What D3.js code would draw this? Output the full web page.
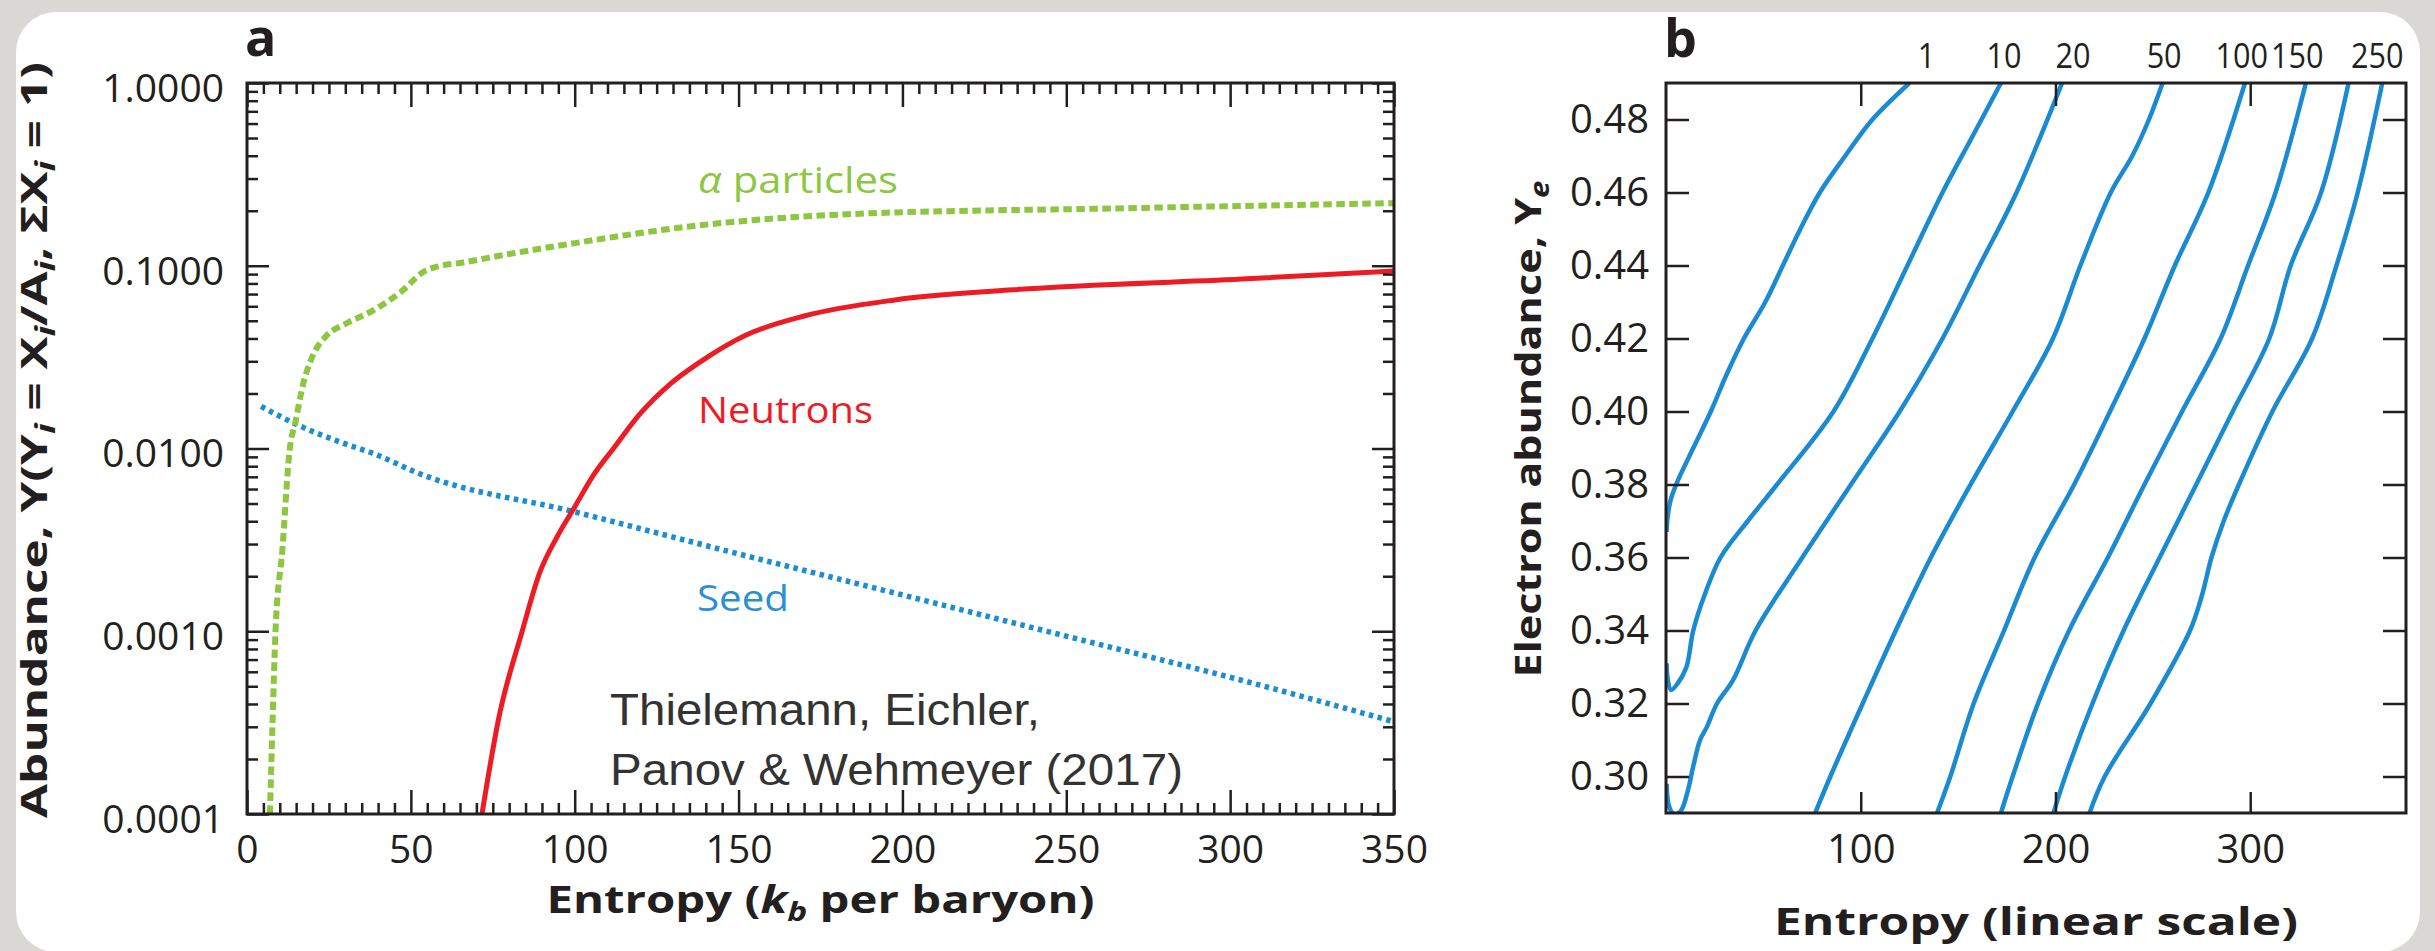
<!DOCTYPE html>
<html>
<head>
<meta charset="utf-8">
<script src="https://cdn.jsdelivr.net/npm/d3@7"></script>
<style>
  body { margin: 0; background: #dad8d4; }
  svg { display: block; }
  .tick line { stroke: #231f20; stroke-width: 2.5; }
  .tick text { font-family: "Open Sans", sans-serif; fill: #231f20; }
  .domain { display: none; }
</style>
</head>
<body>
<div id="chart"></div>
<script>
(function(){
  var width = 2435,
      height = 951;

  // ---- panel a : abundances vs entropy (log y) ----
  var alphaS = [7, 7.8, 8.7, 10.8, 13, 14.8, 17, 20, 24, 30, 38.5, 47, 54, 58, 65, 80, 100, 135, 185, 265, 350];
  var alphaY = [1e-4, 3.2e-4, 1e-3, 2.8e-3, 0.0098, 0.014, 0.022, 0.032, 0.041, 0.048, 0.057, 0.072, 0.093, 0.099, 0.1035, 0.116, 0.133, 0.164, 0.192, 0.206, 0.22];

  var neutS = [71.7, 76.9, 83.9, 89.4, 94.6, 99.8, 105.9, 112, 119.9, 129.1, 138.2, 152.3, 170, 197.7, 232.5, 303.6, 350];
  var neutY = [1e-4, 3.4e-4, 9.9e-4, 2.11e-3, 3.28e-3, 4.72e-3, 7.24e-3, 0.0101, 0.01545, 0.0225, 0.0297, 0.0418, 0.0531, 0.065, 0.0736, 0.0846, 0.0936];

  var seedS = [4.3, 15.7, 30, 38.5, 52.5, 100, 150, 200, 250, 300, 350];
  var seedY = [0.017, 0.0134, 0.0106, 0.0094, 0.0073, 0.0045, 0.00265, 0.00158, 0.00094, 0.00056, 0.00032];

  var xTicksA = [0, 50, 100, 150, 200, 250, 300, 350];
  var yTicksA = [1e-4, 1e-3, 1e-2, 1e-1, 1];

  // ---- panel b : contours of entropy vs electron abundance ----
  var line1 = [[125,0.49],[106,0.48],[92,0.47],[79,0.46],[69,0.45],[60,0.44],[51,0.43],[40,0.42],[31,0.41],[23,0.40],[14,0.39],[6,0.381],[2.5,0.376],[0.8,0.371],[0.3,0.367]];
  var line2 = [[172,0.49],[157,0.475],[142,0.46],[124,0.44],[106,0.42],[86,0.40],[57,0.38],[42,0.37],[28,0.36],[20,0.35],[14,0.34],[10.5,0.33],[6,0.3255],[2.6,0.3237],[0.8,0.327],[0.3,0.331]];
  var line3 = [[203.4,0.49],[180,0.46],[161,0.44],[142,0.42],[120,0.40],[95,0.38],[70,0.36],[46,0.34],[34.4,0.3264],[26.2,0.32],[21,0.3136],[17.5,0.31],[13.9,0.3026],[11.3,0.2963],[7.5,0.2905],[4,0.2897],[1.5,0.292],[0.3,0.298]];
  var line4 = [[255,0.49],[248,0.48],[239.4,0.47],[228.4,0.46],[212.8,0.44],[198.7,0.42],[178,0.40],[156.4,0.38],[136,0.36],[118,0.34],[101,0.32],[84.4,0.30],[76.6,0.29]];
  var line5 = [[297.3,0.49],[278.5,0.46],[261.3,0.44],[245.7,0.42],[228,0.40],[209.6,0.38],[189.3,0.36],[173.6,0.34],[158,0.32],[146,0.30],[139.2,0.29]];
  var line6 = [[328.6,0.49],[313,0.46],[298.9,0.44],[284.8,0.42],[265,0.40],[245.7,0.38],[226.9,0.36],[207,0.34],[191,0.32],[178,0.30],[172,0.29]];
  var line7 = [[350.5,0.49],[336.4,0.46],[320.8,0.44],[309.8,0.42],[291,0.40],[272.3,0.38],[253.5,0.36],[235,0.34],[219,0.32],[205,0.30],[199,0.29]];
  var line8 = [[367.8,0.49],[355.2,0.46],[344.3,0.44],[331.8,0.42],[311.4,0.40],[294.2,0.38],[286.4,0.37],[280.1,0.36],[275.4,0.35],[269.1,0.34],[248.8,0.32],[225.3,0.30],[217.5,0.29]];

  var contourLabels = ["1", "10", "20", "50", "100", "150", "250"];
  var contourLabelS = [133.8, 173.6, 209, 255.8, 295.6, 324.1, 365.2];

  var xTicksB = [100, 200, 300];
  var yTicksB = [0.30, 0.32, 0.34, 0.36, 0.38, 0.40, 0.42, 0.44, 0.46, 0.48];

  var ink = "#231f20";

  var svg = d3.select("#chart")
    .append("svg")
    .attr("width", width)
    .attr("height", height);

  svg.append("rect")
    .attr("width", width).attr("height", height)
    .attr("fill", "#dad8d4");

  // white card
  svg.append("rect")
    .attr("x", 16).attr("y", 12)
    .attr("width", 2404).attr("height", 940)
    .attr("rx", 40)
    .attr("fill", "#ffffff");

  var defs = svg.append("defs");

  // ================= panel a =================
  var xA = d3.scaleLinear().domain([0, 350]).range([247, 1394]);
  var yA = d3.scaleLog().domain([1e-4, 1]).range([814, 83]);

  defs.append("clipPath").attr("id", "clipA")
    .append("rect")
    .attr("x", xA(0)).attr("y", yA(1))
    .attr("width", xA(350) - xA(0)).attr("height", yA(1e-4) - yA(1));

  var lineA = d3.line()
    .x(function(d) { return xA(d[0]) })
    .y(function(d) { return yA(d[1]) })
    .curve(d3.curveMonotoneX);

  function zip(a, b) {
    return a.map(function(v, i) { return [v, b[i]] });
  }

  var curvesA = svg.append("g").attr("clip-path", "url(#clipA)");

  curvesA.append("path")
    .attr("d", lineA(zip(seedS, seedY)))
    .attr("fill", "none")
    .attr("stroke", "#1b8dd3")
    .attr("stroke-width", 5.5)
    .attr("stroke-dasharray", "4.5,4.5");

  curvesA.append("path")
    .attr("d", lineA(zip(alphaS, alphaY)))
    .attr("fill", "none")
    .attr("stroke", "#8dc63f")
    .attr("stroke-width", 6)
    .attr("stroke-dasharray", "8.5,4.5");

  curvesA.append("path")
    .attr("d", lineA(zip(neutS, neutY)))
    .attr("fill", "none")
    .attr("stroke", "#ed1c24")
    .attr("stroke-width", 5);

  // minor ticks
  var xMinorA = d3.range(0, 351, 5).filter(function(d) { return d % 50 !== 0 });
  var yMinorA = [];
  [1e-4, 1e-3, 1e-2, 1e-1].forEach(function(dec) {
    for (var k = 2; k <= 9; k++) yMinorA.push(dec * k);
  });

  var axA = svg.append("g");

  axA.append("g").attr("transform", "translate(0," + yA(1e-4) + ")")
    .call(d3.axisBottom(xA).tickValues(xTicksA).tickSize(-24).tickPadding(21).tickFormat(d3.format("d")))
    .selectAll("text").style("font-size", "39px");
  axA.append("g").attr("transform", "translate(0," + yA(1e-4) + ")")
    .call(d3.axisBottom(xA).tickValues(xMinorA).tickSize(-11).tickFormat(""));

  axA.append("g").attr("transform", "translate(0," + yA(1) + ")")
    .call(d3.axisTop(xA).tickValues(xTicksA).tickSize(-24).tickFormat(""));
  axA.append("g").attr("transform", "translate(0," + yA(1) + ")")
    .call(d3.axisTop(xA).tickValues(xMinorA).tickSize(-11).tickFormat(""));

  axA.append("g").attr("transform", "translate(" + xA(0) + ",0)")
    .call(d3.axisLeft(yA).tickValues(yTicksA).tickSize(-22).tickPadding(23).tickFormat(d3.format(".4f")))
    .selectAll("text").style("font-size", "39px").attr("dy", "0.47em");
  axA.append("g").attr("transform", "translate(" + xA(0) + ",0)")
    .call(d3.axisLeft(yA).tickValues(yMinorA).tickSize(-11).tickFormat(""));

  axA.append("g").attr("transform", "translate(" + xA(350) + ",0)")
    .call(d3.axisRight(yA).tickValues(yTicksA).tickSize(-22).tickFormat(""));
  axA.append("g").attr("transform", "translate(" + xA(350) + ",0)")
    .call(d3.axisRight(yA).tickValues(yMinorA).tickSize(-11).tickFormat(""));

  svg.append("rect")
    .attr("x", xA(0)).attr("y", yA(1))
    .attr("width", xA(350) - xA(0)).attr("height", yA(1e-4) - yA(1))
    .attr("fill", "none").attr("stroke", ink).attr("stroke-width", 3);

  // curve labels
  var alphaLabel = svg.append("text")
    .attr("x", 698).attr("y", 193)
    .attr("font-family", "Open Sans, sans-serif").attr("font-size", 36)
    .attr("fill", "#8dc63f")
    .attr("textLength", 200).attr("lengthAdjust", "spacingAndGlyphs");
  alphaLabel.append("tspan").attr("font-style", "italic").text("\u03b1");
  alphaLabel.append("tspan").text(" particles");

  svg.append("text")
    .attr("x", 698).attr("y", 423)
    .attr("font-family", "Open Sans, sans-serif").attr("font-size", 36)
    .attr("fill", "#ed1c24")
    .attr("textLength", 175).attr("lengthAdjust", "spacingAndGlyphs")
    .text("Neutrons");

  svg.append("text")
    .attr("x", 697).attr("y", 611)
    .attr("font-family", "Open Sans, sans-serif").attr("font-size", 36)
    .attr("fill", "#2a8fd4")
    .attr("textLength", 92).attr("lengthAdjust", "spacingAndGlyphs")
    .text("Seed");

  // citation
  svg.append("text")
    .attr("x", 610).attr("y", 725)
    .attr("font-family", "Liberation Sans, Arial, sans-serif").attr("font-size", 44)
    .attr("fill", "#333333")
    .attr("textLength", 430).attr("lengthAdjust", "spacingAndGlyphs")
    .text("Thielemann, Eichler,");
  svg.append("text")
    .attr("x", 610).attr("y", 785)
    .attr("font-family", "Liberation Sans, Arial, sans-serif").attr("font-size", 44)
    .attr("fill", "#333333")
    .attr("textLength", 573).attr("lengthAdjust", "spacingAndGlyphs")
    .text("Panov & Wehmeyer (2017)");

  // panel letter
  svg.append("text")
    .attr("x", 245).attr("y", 56)
    .attr("font-family", "Open Sans, sans-serif").attr("font-weight", 700).attr("font-size", 52)
    .attr("fill", ink)
    .text("a");

  // axis titles a
  var xTitleA = svg.append("text")
    .attr("x", (xA(0) + xA(350)) / 2).attr("y", 913)
    .attr("text-anchor", "middle")
    .attr("font-family", "Open Sans, sans-serif").attr("font-weight", 700).attr("font-size", 38)
    .attr("fill", ink)
    .attr("textLength", 548).attr("lengthAdjust", "spacingAndGlyphs");
  xTitleA.append("tspan").text("Entropy (");
  xTitleA.append("tspan").attr("font-style", "italic").text("k");
  xTitleA.append("tspan").attr("font-style", "italic").attr("font-size", 27).attr("dy", 8).text("b");
  xTitleA.append("tspan").attr("dy", -8).text(" per baryon)");

  var yTitleA = svg.append("text")
    .attr("transform", "translate(47,440) rotate(-90)")
    .attr("text-anchor", "middle")
    .attr("font-family", "Open Sans, sans-serif").attr("font-weight", 700).attr("font-size", 36)
    .attr("fill", ink)
    .attr("textLength", 756).attr("lengthAdjust", "spacingAndGlyphs");
  var partsA = ["Abundance, Y(Y", "i", " = X", "i", "/A", "i", ", \u03a3X", "i", " = 1)"];
  partsA.forEach(function(p, i) {
    var t = yTitleA.append("tspan").text(p);
    if (i % 2 === 1) {
      t.attr("font-style", "italic").attr("font-size", 26).attr("dy", 8);
    } else if (i > 0) {
      t.attr("dy", -8);
    }
  });

  // ================= panel b =================
  var xB = d3.scaleLinear().domain([0, 380]).range([1666, 2406]);
  var yB = d3.scaleLinear().domain([0.29, 0.49]).range([813, 83]);

  defs.append("clipPath").attr("id", "clipB")
    .append("rect")
    .attr("x", xB(0)).attr("y", yB(0.49))
    .attr("width", xB(380) - xB(0)).attr("height", yB(0.29) - yB(0.49));

  var lineB = d3.line()
    .x(function(d) { return xB(d[0]) })
    .y(function(d) { return yB(d[1]) })
    .curve(d3.curveCatmullRom.alpha(0.5));

  svg.append("g").attr("clip-path", "url(#clipB)")
    .selectAll(".contour")
    .data([line1, line2, line3, line4, line5, line6, line7, line8])
    .enter().append("path")
    .attr("class", "contour")
    .attr("d", lineB)
    .attr("fill", "none")
    .attr("stroke", "#1a8ad2")
    .attr("stroke-width", 4.5)
    .attr("stroke-linejoin", "round");

  var axB = svg.append("g");

  axB.append("g").attr("transform", "translate(0," + yB(0.29) + ")")
    .call(d3.axisBottom(xB).tickValues(xTicksB).tickSize(-21).tickPadding(22).tickFormat(d3.format("d")))
    .selectAll("text").style("font-size", "40px");
  axB.append("g").attr("transform", "translate(0," + yB(0.49) + ")")
    .call(d3.axisTop(xB).tickValues(xTicksB).tickSize(-23).tickFormat(""));

  axB.append("g").attr("transform", "translate(" + xB(0) + ",0)")
    .call(d3.axisLeft(yB).tickValues(yTicksB).tickSize(-23).tickPadding(17).tickFormat(d3.format(".2f")))
    .selectAll("text").style("font-size", "40px");
  axB.append("g").attr("transform", "translate(" + xB(380) + ",0)")
    .call(d3.axisRight(yB).tickValues(yTicksB).tickSize(-23).tickFormat(""));

  svg.append("rect")
    .attr("x", xB(0)).attr("y", yB(0.49))
    .attr("width", xB(380) - xB(0)).attr("height", yB(0.29) - yB(0.49))
    .attr("fill", "none").attr("stroke", ink).attr("stroke-width", 3);

  // contour level labels on top
  svg.selectAll(".level")
    .data(contourLabels)
    .enter().append("text")
    .attr("class", "level")
    .attr("x", function(d, i) { return xB(contourLabelS[i]) })
    .attr("y", 68)
    .attr("text-anchor", "middle")
    .attr("font-family", "Open Sans, sans-serif").attr("font-size", 34)
    .attr("fill", ink)
    .attr("textLength", function(d) { return d.length * 17.5 })
    .attr("lengthAdjust", "spacingAndGlyphs")
    .text(function(d) { return d });

  svg.append("text")
    .attr("x", 1664).attr("y", 57)
    .attr("font-family", "Open Sans, sans-serif").attr("font-weight", 700).attr("font-size", 52)
    .attr("fill", ink)
    .text("b");

  svg.append("text")
    .attr("x", (xB(0) + xB(380)) / 2).attr("y", 935)
    .attr("text-anchor", "middle")
    .attr("font-family", "Open Sans, sans-serif").attr("font-weight", 700).attr("font-size", 38)
    .attr("fill", ink)
    .attr("textLength", 524).attr("lengthAdjust", "spacingAndGlyphs")
    .text("Entropy (linear scale)");

  var yTitleB = svg.append("text")
    .attr("transform", "translate(1541,429) rotate(-90)")
    .attr("text-anchor", "middle")
    .attr("font-family", "Open Sans, sans-serif").attr("font-weight", 700).attr("font-size", 36)
    .attr("fill", ink)
    .attr("textLength", 497).attr("lengthAdjust", "spacingAndGlyphs");
  yTitleB.append("tspan").text("Electron abundance, Y");
  yTitleB.append("tspan").attr("font-style", "italic").attr("font-size", 26).attr("dy", 8).text("e");

})();
</script>
</body>
</html>
